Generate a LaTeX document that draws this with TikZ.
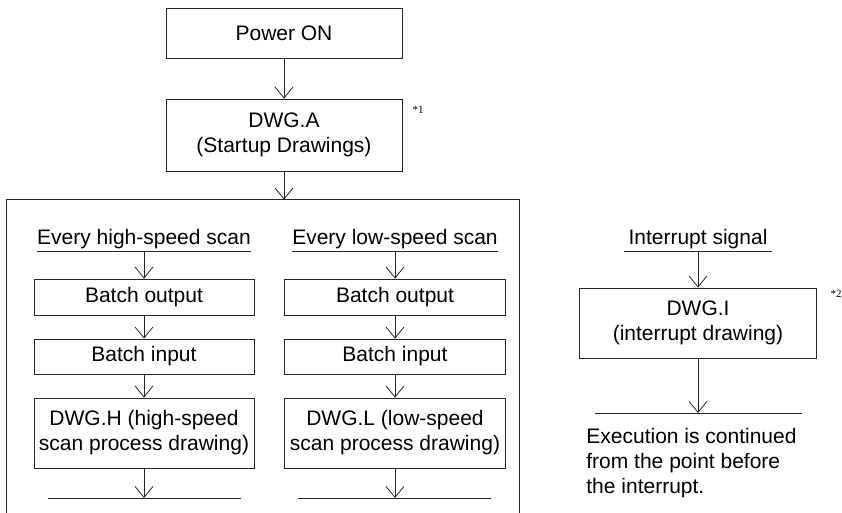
\documentclass[tikz,border=0pt]{standalone}
\usepackage{fontspec}
\setmainfont{Liberation Sans}
\newfontfamily\notefont{Liberation Serif}
\usetikzlibrary{arrows.meta}

\begin{document}
\begin{tikzpicture}[x=1pt,y=-1pt,>={Straight Barb[length=11pt,width=18pt]},line width=0.8pt,
  stepbox/.style={draw=black!85,align=center,inner sep=0pt,font=\fontsize{21}{25}\selectfont},
  headtxt/.style={inner xsep=0pt,inner ysep=2.5pt,text height=15pt,text depth=4.5pt,anchor=base,font=\fontsize{21}{25}\selectfont},
  notemark/.style={inner sep=0pt,font=\notefont\fontsize{11}{12}\selectfont}]
\useasboundingbox (0,0) rectangle (842,513);
\node[stepbox,minimum width=236pt,minimum height=50pt] (pwr) at (284,33) {Power ON};
\node[stepbox,minimum width=236pt,minimum height=72pt] (dwga) at (284,135) {DWG.A\\(Startup Drawings)};
\node[notemark] (fn1) at (418,110) {*1};
\draw[->,draw=black!85] (pwr.south)--(dwga.north);
% scan frame, open at the bottom
\node[inner sep=0pt,minimum width=512pt,minimum height=313pt] (frame) at (263,356.5) {};
\draw[draw=black!85] (frame.south west)--(frame.north west)--(frame.north east)--(frame.south east);
\draw[->,draw=black!85] (dwga.south)--(dwga.south |- frame.north);
% high-speed scan
\node[headtxt,minimum width=208pt] (hsHead) at (144,244) {Every high-speed scan};
\draw[draw=black!85] (hsHead.south west)--(hsHead.south east);
\node[stepbox,minimum width=220pt,minimum height=36pt] (hsOut) at (144,297) {Batch output};
\node[stepbox,minimum width=220pt,minimum height=35pt] (hsIn) at (144,356.5) {Batch input};
\node[stepbox,minimum width=220pt,minimum height=70pt] (dwgH) at (144,433) {DWG.H (high-speed\\scan process drawing)};
\coordinate (hsEnd) at (144,498);
\draw[draw=black!85] ([xshift=-96pt]hsEnd)--([xshift=97pt]hsEnd);
\draw[->,draw=black!85] (hsHead.south)--(hsOut.north);
\draw[->,draw=black!85] (hsOut.south)--(hsIn.north);
\draw[->,draw=black!85] (hsIn.south)--(dwgH.north);
\draw[->,draw=black!85] (dwgH.south)--(hsEnd);
% low-speed scan
\node[headtxt,minimum width=204pt] (lsHead) at (395,244) {Every low-speed scan};
\draw[draw=black!85] (lsHead.south west)--(lsHead.south east);
\node[stepbox,minimum width=221pt,minimum height=36pt] (lsOut) at (395,297) {Batch output};
\node[stepbox,minimum width=221pt,minimum height=35pt] (lsIn) at (395,356.5) {Batch input};
\node[stepbox,minimum width=221pt,minimum height=70pt] (dwgL) at (395,433) {DWG.L (low-speed\\scan process drawing)};
\coordinate (lsEnd) at (395,498);
\draw[draw=black!85] ([xshift=-97pt]lsEnd)--([xshift=96pt]lsEnd);
\draw[->,draw=black!85] (lsHead.south)--(lsOut.north);
\draw[->,draw=black!85] (lsOut.south)--(lsIn.north);
\draw[->,draw=black!85] (lsIn.south)--(dwgL.north);
\draw[->,draw=black!85] (dwgL.south)--(lsEnd);
% interrupt
\node[headtxt,minimum width=148pt] (intHead) at (698,244) {Interrupt signal};
\draw[draw=black!85] (intHead.south west)--(intHead.south east);
\node[stepbox,minimum width=237pt,minimum height=70pt] (dwgI) at (698,323) {DWG.I\\(interrupt drawing)};
\node[notemark] (fn2) at (836,294) {*2};
\coordinate (intEnd) at (698,413);
\draw[draw=black!85] ([xshift=-103pt]intEnd)--([xshift=104pt]intEnd);
\draw[->,draw=black!85] (intHead.south)--(dwgI.north);
\draw[->,draw=black!85] (dwgI.south)--(intEnd);
\node[inner sep=0pt,align=left,anchor=north west,font=\fontsize{21}{25}\selectfont] (cont) at (586,428) {Execution is continued\\from the point before\\the interrupt.};
\end{tikzpicture}
\end{document}
